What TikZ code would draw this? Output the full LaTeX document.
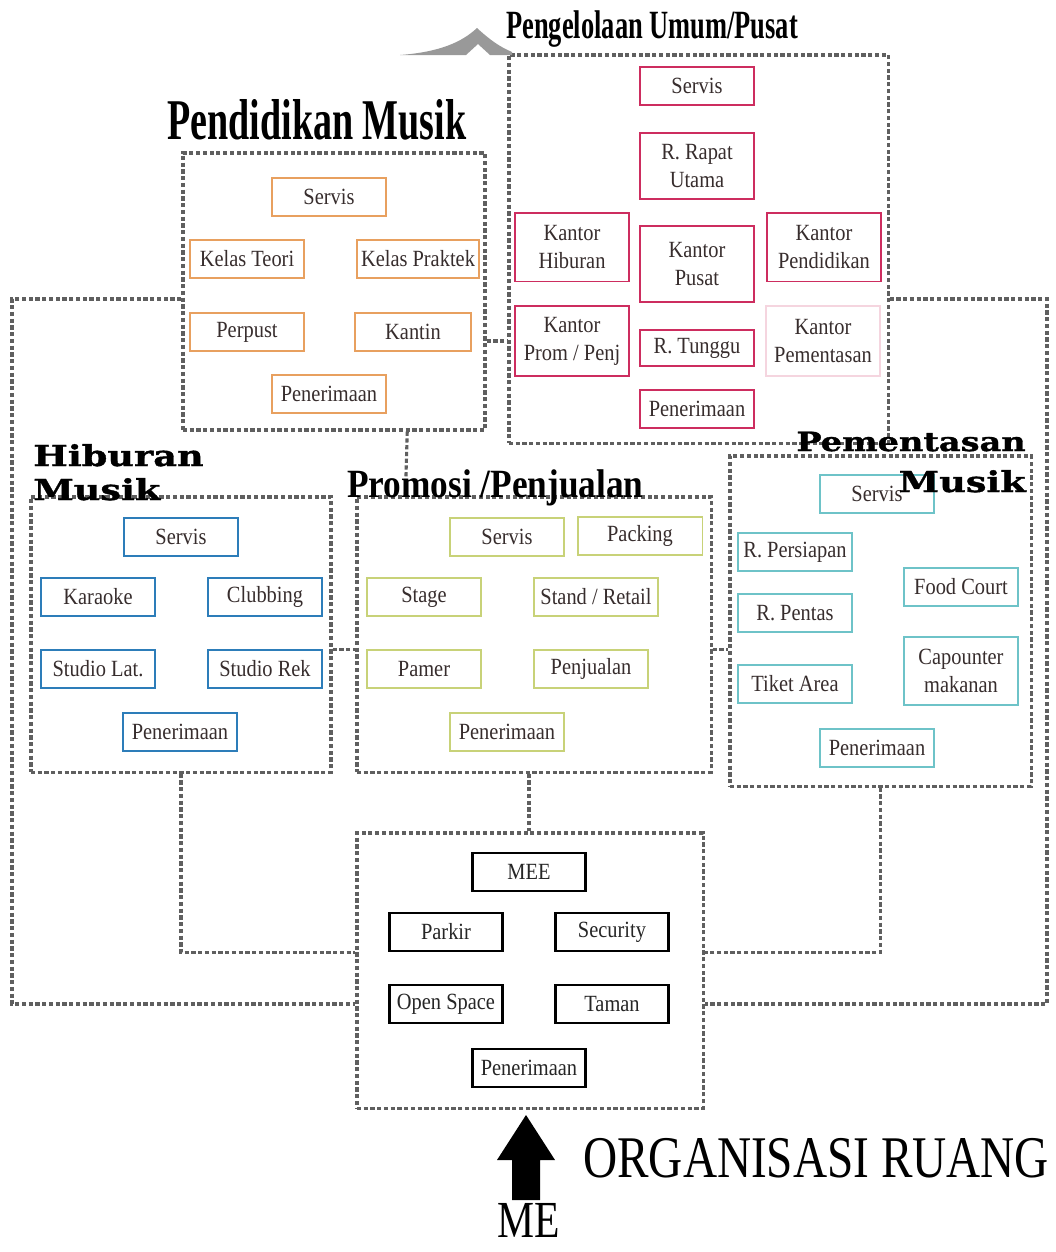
\documentclass[tikz,border=0pt]{standalone}
\usepackage{fontspec}
\setmainfont{Liberation Serif}
\newfontfamily\roomfont{Liberation Serif}[FakeStretch=0.88]
\newfontfamily\narrowfont{Liberation Serif}[FakeStretch=0.66]
\newfontfamily\slabfont{DejaVu Serif}[FakeStretch=1.27, FakeBold=1.2]
\newfontfamily\capsfont{Liberation Serif}[FakeStretch=0.8]
\usetikzlibrary{calc,backgrounds}

\definecolor{pengLine}{RGB}{205,45,95}
\definecolor{pendLine}{RGB}{232,160,95}
\definecolor{hibLine}{RGB}{45,125,185}
\definecolor{promLine}{RGB}{200,210,120}
\definecolor{pemLine}{RGB}{110,195,200}
\definecolor{zoneGray}{RGB}{95,95,95}
\definecolor{roomText}{RGB}{55,45,45}
\definecolor{treeLine}{RGB}{195,190,190}

\tikzset{
  room/.style={draw, fill=white, line width=1.3pt, inner sep=0pt, minimum width=2.83cm,
    minimum height=0.95cm, align=center, text=roomText, font=\roomfont\fontsize{16.5}{20}\selectfont},
  peng/.style={room, draw=pengLine},
  pend/.style={room, draw=pendLine},
  hib/.style={room, draw=hibLine},
  prom/.style={room, draw=promLine},
  pem/.style={room, draw=pemLine},
  mee/.style={room, draw=black, line width=1.7pt, text=black!85},
  zone/.style={draw=zoneGray, line width=2.2pt, dash pattern=on 3pt off 1.8pt, inner sep=0pt},
  dashlink/.style={draw=zoneGray, line width=2.2pt, dash pattern=on 3pt off 1.8pt},
  treelink/.style={draw=treeLine, line width=1.2pt},
  meelink/.style={draw=black, line width=1.7pt},
  title/.style={inner sep=0pt, text=black},
}

\begin{document}
\begin{tikzpicture}[x=0.025cm, y=-0.025cm]
  \useasboundingbox (0,0) rectangle (1055,1252);
  \fill[white] (0,0) rectangle (1055,1252);

  % zones
  \node[zone, minimum width=9.475cm, minimum height=9.7cm] (fPeng) at (698.5,249) {};
  \node[zone, minimum width=7.55cm, minimum height=6.925cm] (fPend) at (334,291.5) {};
  \node[zone, minimum width=7.5cm, minimum height=6.875cm] (fHib) at (181,634.5) {};
  \node[zone, minimum width=8.85cm, minimum height=6.875cm] (fProm) at (534,634.5) {};
  \node[zone, minimum width=7.525cm, minimum height=8.25cm] (fPem) at (880.5,621) {};
  \node[zone, minimum width=8.65cm, minimum height=6.875cm] (fME) at (530,970.5) {};

  % pengelolaan umum / pusat
  \node[peng] (kServ) at (697,86) {Servis};
  \node[peng, minimum height=1.65cm] (kRapat) at (697,166) {R. Rapat\\Utama};
  \node[peng, minimum height=1.72cm] (kHib) at (572,247) {Kantor\\Hiburan};
  \node[peng, minimum height=1.9cm] (kPusat) at (697,264) {Kantor\\Pusat};
  \node[peng, minimum height=1.72cm] (kPend) at (824,247) {Kantor\\Pendidikan};
  \node[peng, minimum height=1.75cm] (kProm) at (572,341) {Kantor\\Prom / Penj};
  \node[peng, minimum height=0.9cm] (kTunggu) at (697,348) {R. Tunggu};
  \node[peng, draw=pengLine!20, minimum height=1.75cm] (kPem) at (823,341) {Kantor\\Pementasan};
  \node[peng] (kPen) at (697,409) {Penerimaan};

  % pendidikan musik
  \node[pend] (eServ) at (329,197) {Servis};
  \node[pend] (eTeori) at (247,259) {Kelas Teori};
  \node[pend, minimum width=3.05cm] (ePrak) at (418,259) {Kelas Praktek};
  \node[pend] (ePerp) at (247,332) {Perpust};
  \node[pend, minimum width=2.88cm] (eKantin) at (413,332) {Kantin};
  \node[pend] (ePen) at (329,394) {Penerimaan};

  % hiburan musik
  \node[hib] (hServ) at (181,537) {Servis};
  \node[hib] (hKara) at (98,597) {Karaoke};
  \node[hib] (hClub) at (265,597) {Clubbing};
  \node[hib] (hLat) at (98,669) {Studio Lat.};
  \node[hib] (hRek) at (265,669) {Studio Rek};
  \node[hib] (hPen) at (180,732) {Penerimaan};

  % promosi / penjualan
  \node[prom] (gServ) at (507,537) {Servis};
  \node[prom, minimum width=3.12cm] (gPack) at (640,536) {Packing};
  \node[prom] (gStage) at (424,597) {Stage};
  \node[prom, minimum width=3.08cm] (gStand) at (596,597) {Stand / Retail};
  \node[prom] (gPamer) at (424,669) {Pamer};
  \node[prom] (gJual) at (591,669) {Penjualan};
  \node[prom] (gPen) at (507,732) {Penerimaan};

  % pementasan musik
  \node[pem] (tServ) at (877,494) {Servis};
  \node[pem] (tPers) at (795,552) {R. Persiapan};
  \node[pem] (tFood) at (961,587) {Food Court};
  \node[pem] (tPentas) at (795,613) {R. Pentas};
  \node[pem, minimum height=1.68cm] (tCap) at (961,671) {Capounter\\makanan};
  \node[pem] (tTiket) at (795,684) {Tiket Area};
  \node[pem] (tPen) at (877,748) {Penerimaan};

  % ME
  \node[mee] (mMEE) at (529,872) {MEE};
  \node[mee] (mPark) at (446,932) {Parkir};
  \node[mee] (mSec) at (612,932) {Security};
  \node[mee] (mOpen) at (446,1004) {Open Space};
  \node[mee] (mTaman) at (612,1004) {Taman};
  \node[mee] (mPen) at (529,1068) {Penerimaan};

  \begin{scope}[on background layer]
    \draw[treelink] (kServ) -- (kPen);
    \draw[treelink] (kHib.north) |- ($(kServ.south)!.5!(kRapat.north)$) -| (kPend.north);
    \draw[treelink] (kHib) -- (kProm);
    \draw[treelink] (kPend) -- (kPem);
    \draw[treelink] ($(kHib.south)!.5!(kProm.north)$) -- ($(kPend.south)!.5!(kPem.north)$);
    \draw[treelink] (eServ) -- (ePen);
    \draw[treelink] (eTeori) -- (ePrak);
    \draw[treelink] (ePerp) -- (eKantin);
    \draw[treelink] (hServ) -- (hPen);
    \draw[treelink] (hKara) -- (hClub);
    \draw[treelink] (hLat) -- (hRek);
    \draw[treelink] (gServ) -- (gPen);
    \draw[treelink] (gStage) -- (gStand);
    \draw[treelink] (gPamer) -- (gJual);
    \draw[treelink] (tServ) -- (tPen);
    \draw[treelink] (tFood) -- (tFood -| tServ);
    \draw[treelink] (tTiket) -- (tTiket -| tCap.west);
    \draw[treelink, draw=treeLine!50] (tPers) -- (tTiket);
    \draw[meelink] (mMEE) -- (mPen);
    \draw[meelink] (mPark) -- (mSec);
    \draw[meelink] (mOpen) -- (mTaman);
  \end{scope}

  % links between zones
  \coordinate (cornerL) at (12,299);
  \coordinate (cornerR) at (1047,299);
  \draw[dashlink] (fPend.east |- kProm) -- (fPeng.west |- kProm);
  \draw[dashlink] ($(fPend.south west)!.74!(fPend.south east)$) -- ($(fProm.north west)!.14!(fProm.north east)$);
  \draw[dashlink] (fHib.east |- hLat.north) -- (fProm.west |- hLat.north);
  \draw[dashlink] (fProm.east |- gPamer.north) -- (fPem.west |- gPamer.north);
  \draw[dashlink] (fProm.south -| mMEE) -- (fME.north -| mMEE);
  \draw[dashlink] (fHib.south) |- (fME.west |- mPark.south);
  \draw[dashlink] (fPem.south) |- (fME.east |- mPark.south);
  \draw[dashlink] (fPend.west |- cornerL) -- (cornerL) |- (fME.west |- mOpen);
  \draw[dashlink] (fPeng.east |- cornerR) -- (cornerR) |- (fME.east |- mOpen);

  % roof mark
  \fill[gray!80] (400,55) .. controls (440,52) and (462,42) .. (477,28) .. controls (490,40) and (500,47) .. (512,52)
    -- (512,55) -- (490,55) -- (478,44) -- (466,55) -- cycle;

  % titles
  \node[title, anchor=base west, font=\narrowfont\bfseries\fontsize{28.5}{30}\selectfont] (tPeng) at (506,38) {Pengelolaan Umum/Pusat};
  \node[title, anchor=base west, font=\narrowfont\bfseries\fontsize{41}{44}\selectfont] (tPend) at (167,139) {Pendidikan Musik};
  \node[title, anchor=base west, font=\roomfont\bfseries\fontsize{28.5}{30}\selectfont] (tProm) at (347,497) {Promosi /Penjualan};
  \node[title, anchor=base west, font=\slabfont\bfseries\fontsize{20.5}{22}\selectfont] (tHib1) at (33,466) {Hiburan};
  \node[title, anchor=base west, font=\slabfont\bfseries\fontsize{20.5}{22}\selectfont] (tHib2) at (33,500) {Musik};
  \node[title, anchor=base east, font=\slabfont\bfseries\fontsize{18.8}{22}\selectfont] (tPem1) at (1026,451) {Pementasan};
  \node[title, anchor=base east, font=\slabfont\bfseries\fontsize{20.5}{22}\selectfont] (tPem2) at (1026,492) {Musik};

  % legend
  \node[title, anchor=base west, font=\capsfont\fontsize{42}{44}\selectfont] (orgLbl) at (583,1177) {ORGANISASI RUANG};
  \node[title, anchor=base west, font=\capsfont\fontsize{37}{40}\selectfont] (meLbl) at (497,1237) {ME};
  \coordinate (arrowTip) at (526,1115);
  \fill[black] (arrowTip) -- ++(29,45) -- ++(-15,0) -- ++(0,40) -- ++(-28,0) -- ++(0,-40) -- ++(-15,0) -- cycle;
\end{tikzpicture}
\end{document}
